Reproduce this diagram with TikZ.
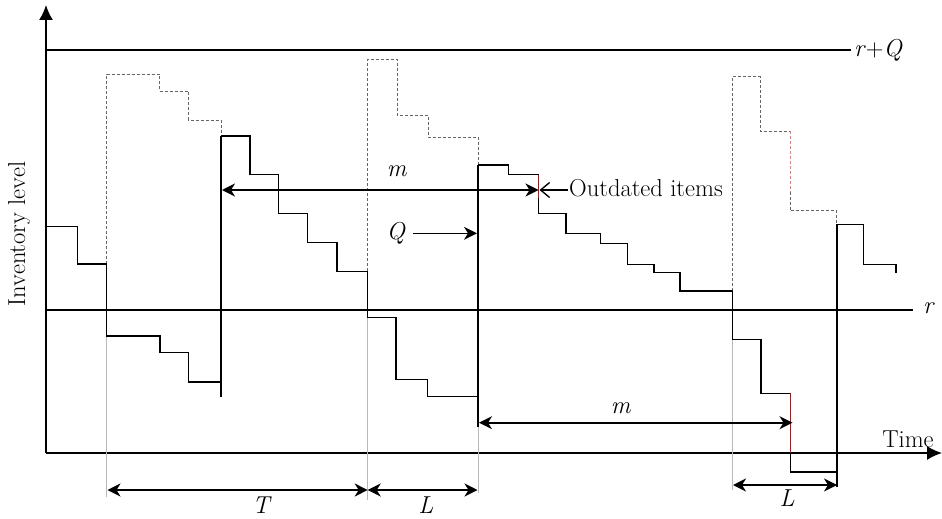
\documentclass[tikz,border=0pt]{standalone}
\usepackage{fontspec}
\usetikzlibrary{arrows.meta}
\tikzset{
  axisline/.style={line width=1.6pt},
  stepline/.style={line width=1.5pt, line join=miter},
  supply/.style={line width=2.3pt},
  ghost/.style={densely dashed, gray!80!black, line width=0.8pt},
  ghostred/.style={densely dashed, red!55, line width=1pt},
  guide/.style={gray!55, line width=0.7pt},
  redline/.style={red!90!black, line width=1.5pt},
  dimarrow/.style={line width=1.6pt, {Stealth[length=13pt,width=13pt,inset=4pt]}-{Stealth[length=13pt,width=13pt,inset=4pt]}},
  onearrow/.style={line width=1.6pt, -{Stealth[length=13pt,width=13pt,inset=4pt]}},
  lbl/.style={font=\fontsize{24.5}{28}\selectfont, inner sep=0pt},
}
\begin{document}
\begin{tikzpicture}[x=1pt,y=-1pt]
\useasboundingbox (0,0) rectangle (942,519);
% axes
\coordinate (O) at (46,453);
\coordinate (ytop) at (46,5);
\coordinate (xend) at (942,453);
\draw[axisline,-{Latex[length=15pt,width=14pt]}] (O) -- (ytop);
\draw[axisline,-{Latex[length=15pt,width=14pt]}] (O) -- (xend);
\node[lbl,rotate=90] (ylab) at (19,234) {Inventory level};
\node[lbl] (time) at (908,439) {Time};
% r+Q and r lines
\coordinate (rqa) at (46,50); \coordinate (rqb) at (851,50);
\draw[axisline] (rqa) -- (rqb);
\node[lbl,anchor=west] (rqlab) at (854,50) {\textit{r}+\textit{Q}};
\coordinate (ra) at (46,310); \coordinate (rb) at (913,310);
\draw[axisline] (ra) -- (rb);
\node[lbl] (rlab) at (929,308) {\textit{r}};
% guide lines below
\draw[guide] (106.7,336) -- (106.7,497);
\draw[guide] (367.7,317.3) -- (367.7,500);
\draw[guide] (478.3,426.7) -- (478.3,493);
\draw[guide] (732.3,339.3) -- (732.3,490);
% dashed ghost paths
\draw[ghost] (106.7,264)--(106.7,74)--(159.3,74)--(159.3,91)--(188.3,91)--(188.3,120)--(221,120)--(221,136);
\draw[ghost] (367.7,271.3)--(367.7,59.3)--(397.3,59.3)--(397.3,115)--(428.3,115)--(428.3,137)--(478.3,137)--(478.3,165);
\draw[ghost] (732.3,291)--(732.3,76.7)--(760,76.7)--(760,131)--(790,131);
\draw[ghostred] (790,131)--(790,191.7);
\draw[ghost] (790,191.7)--(790,210.7)--(836.7,210.7)--(836.7,224.3);
% inventory path
\draw[stepline] (46,226.7)--(77.7,226.7)--(77.7,264)--(106.7,264)--(106.7,336)--(160,336)--(160,352.7)--(188.3,352.7)--(188.3,382)--(221,382);
\draw[supply] (221,396.7)--(221,136);
\draw[stepline] (221,136)--(250,136)--(250,174.3)--(278.7,174.3)--(278.7,213.3)--(307.3,213.3)--(307.3,242.3)--(337,242.3)--(337,271.3)--(367.7,271.3)--(367.7,317.3)--(396,317.3)--(396,379.3)--(427.3,379.3)--(427.3,396.7)--(478.3,396.7);
\draw[supply] (478.3,426.7)--(478.3,165);
\draw[stepline] (478.3,165)--(508.3,165)--(508.3,174.7)--(538.5,174.7);
\draw[redline] (538.5,174.7)--(538.5,198);
\draw[stepline] (538.5,198)--(538.5,213.3)--(566,213.3)--(566,233.3)--(600.7,233.3)--(600.7,243.3)--(627.7,243.3)--(627.7,264.3)--(654,264.3)--(654,272.7)--(680,272.7)--(680,291)--(732.3,291)--(732.3,339.3)--(761,339.3)--(761,393.3)--(790.7,393.3);
\draw[redline] (790.7,393.3)--(790.7,453.3);
\draw[stepline] (790.7,453.3)--(790.7,472)--(836.7,472);
\draw[supply] (836.7,487)--(836.7,224.3);
\draw[stepline] (836.7,224.3)--(863.3,224.3)--(863.3,264.3)--(896,264.3)--(896,272.7);
% upper m arrow and outdated items
\coordinate (m1a) at (222,190); \coordinate (m1b) at (538.5,190);
\draw[dimarrow] (m1a) -- (m1b);
\node[lbl] (m1) at (397,171) {\textit{m}};
\node[lbl,anchor=west] (outd) at (569,188.5) {Outdated items};
\coordinate (outtip) at (539.5,190);
\draw[line width=1.4pt,-{Straight Barb[length=9pt,width=15pt]}] (outd.west |- outtip) ++(-1,0) -- (outtip);
% Q arrow
\node[lbl] (Q) at (396,233) {\textit{Q}};
\coordinate (qtip) at (477,233.3);
\draw[onearrow] (413,233.3) -- (qtip);
% lower m arrow
\coordinate (m2a) at (479,422.7); \coordinate (m2b) at (792.5,422.7);
\draw[dimarrow] (m2a) -- (m2b);
\node[lbl] (m2) at (621,408) {\textit{m}};
% T and L arrows
\coordinate (Ta) at (107.5,490); \coordinate (Tb) at (367.7,490); \coordinate (Lb) at (477.5,490);
\draw[dimarrow] (Ta) -- (Tb);
\draw[dimarrow] (Tb) -- (Lb);
\node[lbl] (T) at (262,505) {\textit{T}};
\node[lbl] (L1) at (426,505) {\textit{L}};
\coordinate (L2a) at (733,485); \coordinate (L2b) at (837,485);
\draw[dimarrow] (L2a) -- (L2b);
\node[lbl] (L2) at (787,498) {\textit{L}};
\end{tikzpicture}
\end{document}
